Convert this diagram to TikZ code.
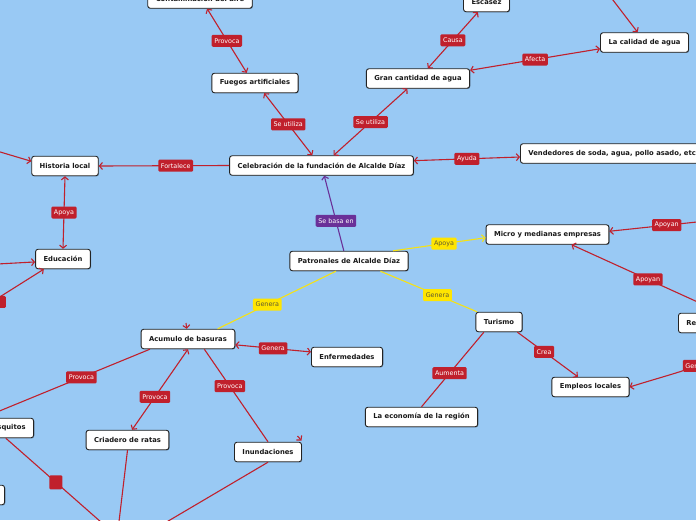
\documentclass[tikz,border=0pt]{standalone}
\usepackage{fontspec}
\setmainfont{DejaVu Sans}
\usetikzlibrary{arrows.meta,calc,shadows}
\definecolor{bg}{RGB}{153,201,244}
\definecolor{cred}{RGB}{192,32,44}
\definecolor{cyel}{RGB}{255,229,0}
\definecolor{cyline}{RGB}{246,226,20}
\definecolor{cpur}{RGB}{106,48,152}
\definecolor{cbord}{RGB}{35,35,35}
\definecolor{ytext}{RGB}{95,90,50}
\tikzset{
  box/.style={draw=cbord, line width=0.9pt, fill=white, rounded corners=2.5pt,
    inner xsep=8pt, inner ysep=0pt, minimum height=19.5pt,
    font=\fontsize{6.8}{8}\selectfont\bfseries, text=black!90,
    drop shadow={shadow xshift=0.7pt, shadow yshift=-0.7pt, opacity=0.3, fill=black}},
  lbl/.style={fill=cred, text=white, rounded corners=1.2pt, inner xsep=2.6pt,
    inner ysep=0pt, minimum height=12pt, font=\fontsize{6.4}{7}\selectfont},
  ylbl/.style={lbl, fill=cyel, text=ytext},
  plbl/.style={lbl, fill=cpur, text=white},
  con/.style={draw=cred, line width=1.1pt},
  ycon/.style={draw=cyline, line width=1.1pt},
  pcon/.style={draw=cpur, line width=1.1pt},
}
\begin{document}
\begin{tikzpicture}[x=1pt,y=-1pt, >={Straight Barb[length=3pt,width=7pt]}]
\fill[bg] (0,0) rectangle (696,520);
\useasboundingbox (0,0) rectangle (696,520);
\clip (0,0) rectangle (696,520);

% nodes
\node[box] (cont) at (200,-1.5) {Contaminación del aire};
\node[box] (esc) at (486.5,2) {Escasez};
\node[box] (cal) at (644.5,42.5) {La calidad de agua};
\node[box] (fue) at (255,83) {Fuegos artificiales};
\node[box] (gca) at (418,78.5) {Gran cantidad de agua};
\node[box] (his) at (65,166) {Historia local};
\node[box] (cel) at (321.5,165.5) {Celebración de la fundación de Alcalde Díaz};
\node[box, anchor=west] (ven) at (520,153.5) {Vendedores de soda, agua, pollo asado, etc};
\node[box] (mic) at (547.5,234.5) {Micro y medianas empresas};
\node[box] (edu) at (63,259) {Educación};
\node[box] (pat) at (349,261) {Patronales de Alcalde Díaz};
\node[box] (acu) at (188,339) {Acumulo de basuras};
\node[box] (enf) at (347,357) {Enfermedades};
\node[box] (tur) at (499,322) {Turismo};
\node[box, anchor=west, text width=70pt, align=left] (re) at (678,323) {Re};
\node[box] (emp) at (590.5,387) {Empleos locales};
\node[box, anchor=east] (mos) at (34,428) {Mosquitos};
\node[box] (eco) at (421.5,417) {La economía de la región};
\node[box] (cri) at (127.5,440) {Criadero de ratas};
\node[box] (inu) at (268,452) {Inundaciones};
\node[box, anchor=east, minimum width=50pt] (bl) at (5,495) {};

% free ends
\coordinate (t1) at (603,-13);
\coordinate (l1) at (-30,143);
\coordinate (l2) at (-30,265.5);
\coordinate (l3) at (-40,322);
\coordinate (r1) at (730,218.5);
\coordinate (b1) at (110,530);
\coordinate (b2) at (118,530);
\coordinate (b3) at (153,530);
\coordinate (s1) at (186,323);
\coordinate (s2) at (297.5,436);
\coordinate (s2e) at (301.5,440.5);

% connectors
\draw[con,<->] (fue.129) -- node[lbl]{Provoca} (cont.-55);
\draw[con,<->] (cel.132) -- node[lbl]{Se utiliza} (fue.-48);
\draw[con,<->] (cel.40) -- node[lbl]{Se utiliza} (gca.224);
\draw[con,<->] (gca.46) -- node[lbl]{Causa} (esc.230);
\draw[con,<->] (gca.9) -- node[lbl]{Afecta} (cal.188);
\draw[con,->] (t1) -- (cal.124);
\draw[con,->] (cel.west) -- node[lbl,pos=0.41]{Fortalece} (his.east);
\draw[con,->] (l1) -- (his.172);
\draw[con,<->] (his.south) -- node[lbl]{Apoya} (edu.north);
\draw[con,->] (l2) -- (edu.186);
\draw[con,->] (l3) -- node[lbl,pos=0.38,minimum width=28pt]{} (edu.208);
\draw[con,<->] (cel.3) -- node[lbl]{Ayuda} ($(ven.west)+(0,3.5)$);

\draw[pcon,->] (pat.117) -- node[plbl,pos=0.4]{Se basa en} (cel.-75);
\draw[ycon,->] (pat.13) -- node[ylbl,pos=0.55]{Apoya} (mic.183);
\draw[ycon] (pat.-18) -- node[ylbl,pos=0.59]{Genera} (tur.155);
\draw[ycon] (pat.218) -- node[ylbl,pos=0.58]{Genera} (acu.19);

\draw[con,<->] (acu.-7) -- node[lbl]{Genera} (enf.172);
\draw[con] (acu.195) -- node[lbl,pos=0.41]{Provoca} (mos.156);
\draw[con,<->] (acu.south) -- node[lbl,pos=0.59]{Provoca} (cri.66);
\draw[con] (acu.-32) -- node[lbl,pos=0.4]{Provoca} (inu.north);
\draw[con] (mos.south) -- node[lbl,pos=0.48,minimum width=13pt,minimum height=14pt]{} (b1);
\draw[con] (cri.south) -- (b2);
\draw[con] (inu.south) -- (b3);
\draw[con,->] (s1) -- (acu.97);
\draw[con,->] (s2) -- (s2e);

\draw[con] (tur.214) -- node[lbl,pos=0.55]{Aumenta} (eco.north);
\draw[con,->] (tur.-29) -- node[lbl,pos=0.44]{Crea} (emp.141);
\draw[con,->] (r1) -- node[lbl,pos=0.525]{Apoyan} (mic.3);
\draw[con,->] (re.north) -- node[lbl,pos=0.49]{Apoyan} (mic.-23);
\draw[con,->] (re.-60) .. controls (735,360) and (690,368) .. node[lbl,pos=0.56]{Genera} (emp.east);
\end{tikzpicture}
\end{document}
